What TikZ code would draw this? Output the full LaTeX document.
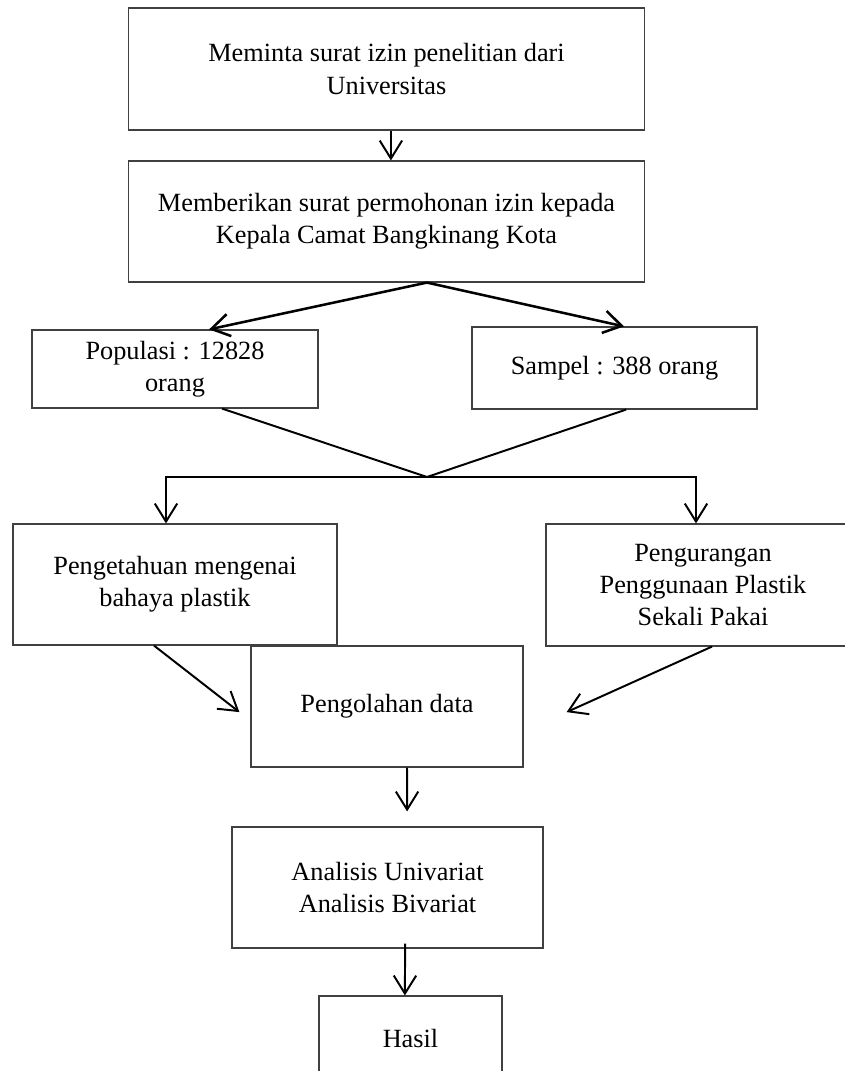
\documentclass[tikz,border=0pt]{standalone}
\usepackage{fontspec}
\setmainfont{Liberation Serif}
\usetikzlibrary{arrows.meta}

\begin{document}
\begin{tikzpicture}[x=0.025cm,y=-0.025cm,
  kotak/.style={draw=black!75,line width=0.8pt,rectangle,align=center,inner sep=0pt,font=\fontsize{18.7}{23}\selectfont},
  panah/.style={line width=1.4pt,-{Straight Barb[length=4.5mm,width=5.6mm]}},
  garis/.style={line width=1.4pt}]
\useasboundingbox (0,0) rectangle (844,1071);

% Kotak izin
\node[kotak,minimum width=12.875cm,minimum height=3.05cm] (izin) at (386.5,69) {Meminta surat izin penelitian dari\\Universitas};
\node[kotak,minimum width=12.875cm,minimum height=3.025cm] (camat) at (386.5,221.5) {Memberikan surat permohonan izin kepada\\Kepala Camat Bangkinang Kota};

% Populasi dan sampel
\node[kotak,minimum width=7.15cm,minimum height=1.95cm] (populasi) at (175,369) {Populasi : 12828\\orang};
\node[kotak,minimum width=7.125cm,minimum height=2.05cm] (sampel) at (614.5,368) {Sampel : 388 orang};

% Variabel
\node[kotak,minimum width=8.1cm,minimum height=3.025cm] (pengetahuan) at (175,584.5) {Pengetahuan mengenai\\bahaya plastik};
\node[kotak,minimum width=7.85cm,minimum height=3.05cm] (pengurangan) at (703,585) {Pengurangan\\Penggunaan Plastik\\Sekali Pakai};

% Pengolahan dan hasil
\node[kotak,minimum width=6.8cm,minimum height=3.025cm] (olah) at (387,706.5) {Pengolahan data};
\node[kotak,minimum width=7.775cm,minimum height=3.025cm] (analisis) at (387.5,887.5) {Analisis Univariat\\Analisis Bivariat};
\node[kotak,minimum width=4.575cm,minimum height=2.1cm] (hasil) at (410.5,1038) {Hasil};

% Panah izin
\draw[panah] ([xshift=0.11cm]izin.south) -- ([xshift=0.11cm]camat.north);

% Cabang ke populasi dan sampel
\coordinate (cabang) at ([xshift=1.01cm]camat.south);
\draw[panah,line width=1.8pt] (cabang) -- ([xshift=0.85cm]populasi.north);
\draw[panah,line width=1.8pt] (cabang) -- ([xshift=0.24cm]sampel.north);

% Gabungan ke variabel
\coordinate (temu) at (427,477);
\draw[garis] ([xshift=1.175cm]populasi.south) -- (temu) -- ([xshift=0.29cm]sampel.south);
\draw[panah] (temu) -| ([xshift=-0.225cm]pengetahuan.north);
\draw[panah] (temu) -| ([xshift=-0.175cm]pengurangan.north);

% Ke pengolahan data
\draw[panah] ([xshift=-0.525cm]pengetahuan.south) -- ([xshift=-0.275cm,yshift=-0.14cm]olah.west);
\draw[panah] ([xshift=0.225cm]pengurangan.south) -- ([xshift=1.075cm,yshift=-0.14cm]olah.east);

% Analisis dan hasil
\draw[panah] ([xshift=0.5cm]olah.south) -- ([xshift=0.49cm,yshift=0.375cm]analisis.north);
\draw[panah] ([xshift=0.44cm,yshift=0.125cm]analisis.south) -- ([xshift=-0.14cm]hasil.north);

\end{tikzpicture}
\end{document}
